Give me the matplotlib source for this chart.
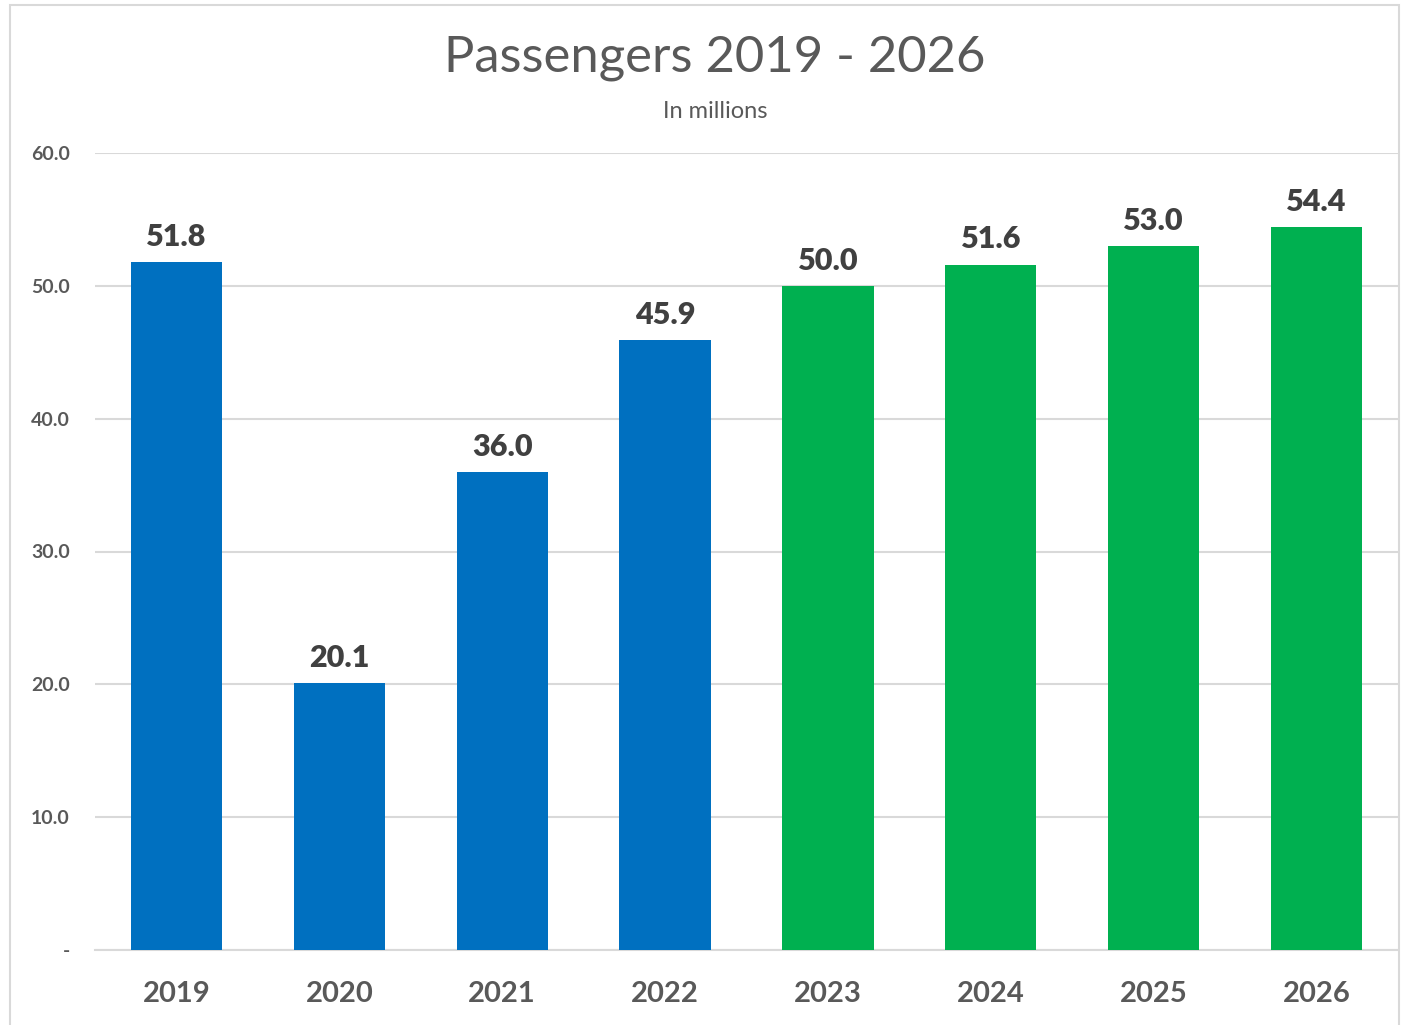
import matplotlib.pyplot as plt
from matplotlib.patches import Rectangle
from matplotlib.ticker import FuncFormatter

years = ['2019', '2020', '2021', '2022', '2023', '2024', '2025', '2026']
passengers = [51.8, 20.1, 36.0, 45.9, 50.0, 51.6, 53.0, 54.4]
bar_colors = ['#0070C0'] * 4 + ['#00B050'] * 4

plt.rcParams['font.family'] = ['Lato', 'DejaVu Sans']

fig = plt.figure(figsize=(14.02, 10.25), dpi=100)
# light border around the chart area
fig.patches.append(Rectangle((10 / 1402, -0.01), 1389 / 1402, 1 - 5 / 1025 + 0.01,
                             transform=fig.transFigure, fill=False,
                             edgecolor='#D9D9D9', linewidth=1.5))

ax = fig.add_axes([95 / 1402, 75 / 1025, 1303 / 1402, 797 / 1025])
x = range(len(years))
bars = ax.bar(x, passengers, width=0.56, color=bar_colors, zorder=3)

for b, v in zip(bars, passengers):
    ax.annotate(f'{v:.1f}', (b.get_x() + b.get_width() / 2, v), xytext=(0, 8),
                textcoords='offset points', ha='center', va='bottom',
                fontsize=22, fontweight='heavy', color='#404040')

ax.set_xlim(-0.5, len(years) - 0.5)
ax.set_ylim(0, 60)
ax.set_yticks(range(0, 61, 10))
ax.yaxis.set_major_formatter(FuncFormatter(lambda v, p: '-' if v == 0 else f'{v:.1f}'))
ax.set_xticks(list(x))
ax.set_xticklabels(years)

ax.grid(axis='y', color='#D9D9D9', linewidth=1.5, zorder=0)
for s in ['top', 'right', 'left']:
    ax.spines[s].set_visible(False)
ax.spines['bottom'].set_color('#D9D9D9')
ax.spines['bottom'].set_linewidth(1.5)
ax.tick_params(axis='both', length=0)
ax.tick_params(axis='y', pad=18, labelsize=14, labelcolor='#595959')
ax.tick_params(axis='x', pad=22, labelsize=21, labelcolor='#595959')
for t in ax.get_yticklabels() + ax.get_xticklabels():
    t.set_fontweight('bold')

fig.text(0.51, 1 - 58 / 1025, 'Passengers 2019 - 2026', ha='center', va='center',
         fontsize=36.5, color='#595959')
fig.text(0.51, 1 - 111 / 1025, 'In millions', ha='center', va='center',
         fontsize=17, color='#595959')

fig.savefig('out.png', dpi=100)
